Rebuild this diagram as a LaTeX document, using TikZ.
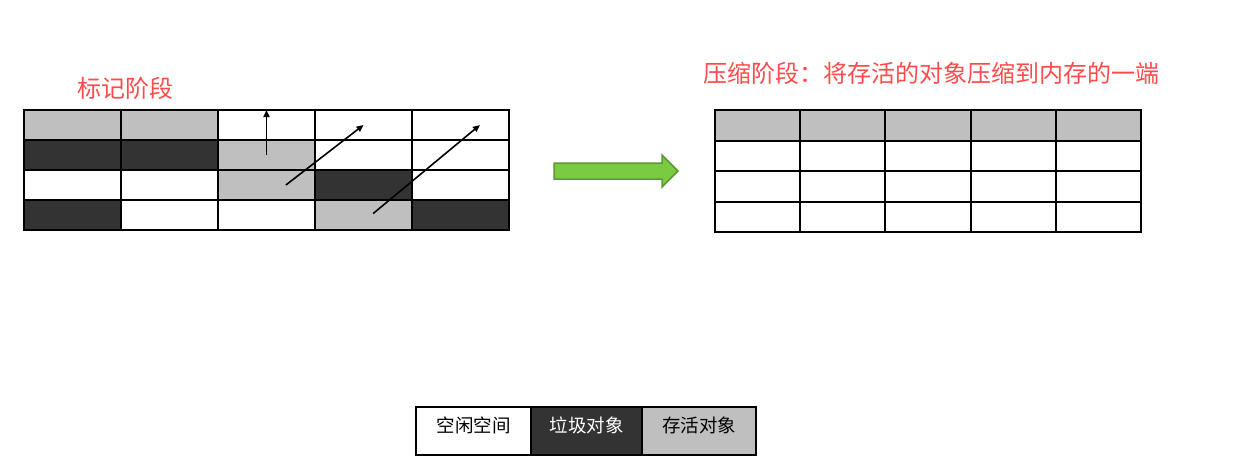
\documentclass[tikz,border=0pt]{standalone}
\usepackage{fontspec}
\newfontfamily\cjk{Noto Sans CJK SC}
\usetikzlibrary{arrows.meta}
\definecolor{deadcell}{HTML}{333333}
\definecolor{livecell}{HTML}{BFBFBF}
\definecolor{titlered}{HTML}{FF4B4B}
\definecolor{movegreen}{HTML}{7BCB42}
\definecolor{moveedge}{HTML}{5A9A30}
\tikzset{
  heading/.style={text=titlered,font=\cjk\fontsize{24}{24}\selectfont,inner sep=0pt},
  legendbox/.style={draw,line width=2pt,minimum width=#1,minimum height=48pt,inner sep=0pt},
  legendtext/.style={font=\cjk\fontsize{18.5}{18.5}\selectfont,inner sep=0pt},
  move/.style={line width=1.6pt,-{Triangle[length=7pt,width=6pt]}},
  cellline/.style={line width=2pt,line cap=rect}
}
\begin{document}
\begin{tikzpicture}[x=1pt,y=-1pt]
  \useasboundingbox (0,0) rectangle (1248,475);
  \fill[white] (0,0) rectangle (1248,475);
  % mark phase
  \node[heading] (marktitle) at (125,88) {标记阶段};
  \begin{scope}[xshift=24pt,yshift=-110pt,x=97pt,y=-30pt]
    \foreach \c/\r in {0/0,1/0,2/1,2/2,3/3}{\fill[livecell] (\c,\r) rectangle ++(1,1);}
    \foreach \c/\r in {0/1,1/1,3/2,0/3,4/3}{\fill[deadcell] (\c,\r) rectangle ++(1,1);}
    \foreach \r in {0,...,4}{\draw[cellline] (0,\r) -- (5,\r);}
    \foreach \c in {0,...,5}{\draw[cellline] (\c,0) -- (\c,4);}
    \coordinate (s1) at (2.5,1.5);  \coordinate (t1) at (2.5,0);
    \coordinate (s2) at (2.7,2.5);  \coordinate (t2) at (3.5,0.5);
    \coordinate (s3) at (3.6,3.45); \coordinate (t3) at (4.7,0.5);
    \draw[move] (s1) -- (t1);
    \draw[move] (s2) -- (t2);
    \draw[move] (s3) -- (t3);
  \end{scope}
  % big arrow
  \draw[fill=movegreen,draw=moveedge,line width=1.5pt,line join=miter]
    (554,163) -- (662,163) -- (662,155) -- (678,171) -- (662,187) -- (662,179) -- (554,179) -- cycle;
  % compact phase
  \node[heading] (compacttitle) at (931,73) {压缩阶段：将存活的对象压缩到内存的一端};
  \begin{scope}[xshift=715pt,yshift=-110pt,x=85.2pt,y=-30.5pt]
    \fill[livecell] (0,0) rectangle (5,1);
    \foreach \r in {0,...,4}{\draw[cellline] (0,\r) -- (5,\r);}
    \foreach \c in {0,...,5}{\draw[cellline] (\c,0) -- (\c,4);}
  \end{scope}
  % legend
  \node[legendbox=115pt,fill=white] (freebox) at (473.5,431) {};
  \node[legendbox=111pt,fill=deadcell] (deadbox) at (586.5,431) {};
  \node[legendbox=114pt,fill=livecell] (livebox) at (699,431) {};
  \node[legendtext] (freetext) at ([yshift=6pt]freebox.center) {空闲空间};
  \node[legendtext,text=white] (deadtext) at ([yshift=6pt]deadbox.center) {垃圾对象};
  \node[legendtext] (livetext) at ([yshift=6pt]livebox.center) {存活对象};
\end{tikzpicture}
\end{document}
